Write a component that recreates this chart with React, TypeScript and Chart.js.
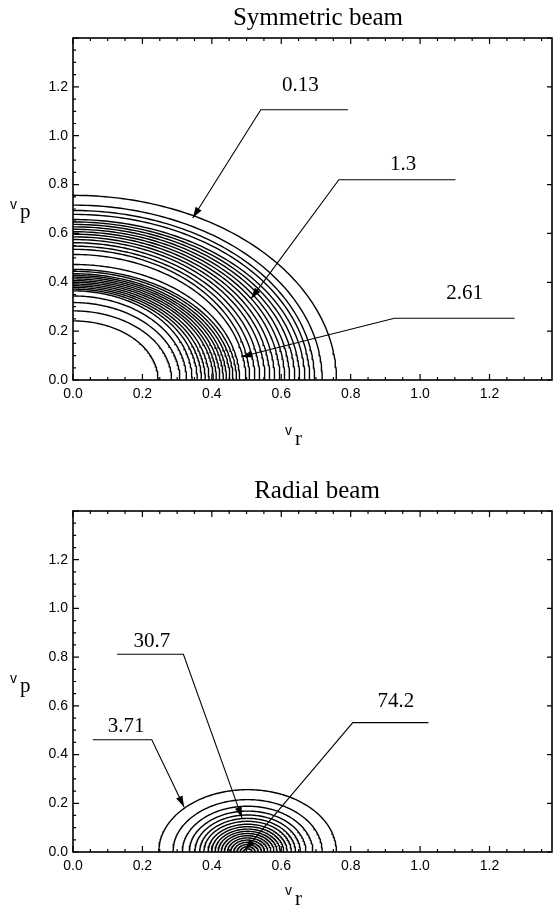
import React, { useEffect, useRef } from 'react';
import { Chart, registerables } from 'chart.js';

Chart.register(...registerables);

// ---- axes ----
const X_TICKS = [0, 0.2, 0.4, 0.6, 0.8, 1.0, 1.2];
const Y_TICKS = [0, 0.2, 0.4, 0.6, 0.8, 1.0, 1.2];
const X_MAX = 1.38;
const Y_MAX = 1.4;

// ---- Symmetric beam: contour intercepts on the v_r axis and on the v_p axis ----
const SYM_X_INTERCEPTS = [
  0.245, 0.284, 0.308, 0.327, 0.343, 0.358, 0.37, 0.381, 0.392, 0.404, 0.413, 0.423, 0.433, 0.442, 0.452, 0.461, 0.471, 0.48,
  0.498, 0.509, 0.524, 0.538, 0.553, 0.567, 0.581, 0.596, 0.61, 0.624, 0.639, 0.653, 0.668, 0.682, 0.696, 0.718, 0.759,
];
const SYM_Y_INTERCEPTS = [
  0.242, 0.283, 0.317, 0.344, 0.365, 0.372, 0.379, 0.386, 0.393, 0.4, 0.407, 0.414, 0.421, 0.428, 0.435, 0.445, 0.453, 0.473,
  0.514, 0.535, 0.548, 0.562, 0.575, 0.586, 0.597, 0.607, 0.617, 0.627, 0.637, 0.647, 0.657, 0.678, 0.694, 0.716, 0.756,
];

// ---- Radial beam: contour circles centred on the v_r axis ----
const RAD_CENTER = 0.503;
const RAD_RADII = [
  0.256, 0.215, 0.188, 0.168, 0.152, 0.138, 0.126, 0.114, 0.104, 0.094, 0.085, 0.076, 0.067, 0.058, 0.049, 0.04, 0.031, 0.022, 0.013,
];

// ---- contour-level labels (data coordinates) ----
const SYM_LABELS = ['0.13', '1.3', '2.61'];
const SYM_LABEL_AT = [[0.655, 1.184], [0.951, 0.86], [1.128, 0.33]];
const SYM_LEADER_END = [[0.792, 1.106], [1.102, 0.82], [1.272, 0.253]];
const SYM_LEADER_ELBOW = [[0.541, 1.106], [0.766, 0.82], [0.926, 0.253]];
const SYM_LEADER_TIP = [[0.345, 0.663], [0.513, 0.333], [0.485, 0.095]];

const RAD_LABELS = ['30.7', '74.2', '3.71'];
const RAD_LABEL_AT = [[0.227, 0.841], [0.93, 0.596], [0.153, 0.494]];
const RAD_LEADER_END = [[0.127, 0.812], [1.024, 0.531], [0.057, 0.461]];
const RAD_LEADER_ELBOW = [[0.318, 0.812], [0.806, 0.531], [0.227, 0.461]];
const RAD_LEADER_TIP = [[0.487, 0.14], [0.495, 0.008], [0.32, 0.185]];

function quarterArc(rx: number, ry: number) {
  const pts = [];
  const n = 90;
  for (let i = 0; i <= n; i++) {
    const t = (Math.PI / 2) * (i / n);
    pts.push({ x: rx * Math.cos(t), y: ry * Math.sin(t) });
  }
  return pts;
}

function halfArc(cx: number, r: number) {
  const pts = [];
  const n = 120;
  for (let i = 0; i <= n; i++) {
    const t = Math.PI * (i / n);
    pts.push({ x: cx + r * Math.cos(t), y: r * Math.sin(t) });
  }
  return pts;
}

const SERIF = '"Liberation Serif", "Times New Roman", serif';
const SANS = '"Liberation Sans", Arial, sans-serif';

type Decor = {
  title: string;
  titleDx: number;
  labels: string[];
  labelAt: number[][];
  leaderEnd: number[][];
  leaderElbow: number[][];
  leaderTip: number[][];
  xTitleDy: number;
  yTitleDy: number;
};

function decorPlugin(d: Decor) {
  return {
    id: 'decor',
    afterDatasetsDraw(chart: any) {
      const { ctx, chartArea: a } = chart;
      const xs = chart.scales.x;
      const ys = chart.scales.y;
      const px = (v: number) => xs.getPixelForValue(v);
      const py = (v: number) => ys.getPixelForValue(v);
      ctx.save();
      ctx.strokeStyle = '#000';
      ctx.fillStyle = '#000';

      // frame
      ctx.lineWidth = 1.6;
      ctx.strokeRect(a.left, a.top, a.right - a.left, a.bottom - a.top);

      // inward ticks
      ctx.lineWidth = 1.2;
      ctx.beginPath();
      for (let k = 0; k * 0.05 <= X_MAX + 1e-9; k++) {
        const v = k * 0.05;
        const major = k % 4 === 0;
        const L = major ? 6 : 3;
        const x = px(v);
        ctx.moveTo(x, a.bottom);
        ctx.lineTo(x, a.bottom - L);
        ctx.moveTo(x, a.top);
        ctx.lineTo(x, a.top + L);
      }
      for (let k = 0; k * 0.05 <= Y_MAX + 1e-9; k++) {
        const v = k * 0.05;
        const major = k % 4 === 0;
        const L = major ? 6 : 3;
        const y = py(v);
        ctx.moveTo(a.left, y);
        ctx.lineTo(a.left + L, y);
        if (major) {
          ctx.moveTo(a.right, y);
          ctx.lineTo(a.right - 5, y);
        }
      }
      ctx.stroke();

      // leader lines with arrows
      ctx.lineWidth = 1.1;
      for (let i = 0; i < d.labels.length; i++) {
        const e = d.leaderEnd[i];
        const m = d.leaderElbow[i];
        const t = d.leaderTip[i];
        const ex = px(e[0]), ey = py(e[1]);
        const mx = px(m[0]), my = py(m[1]);
        const tx = px(t[0]), ty = py(t[1]);
        ctx.beginPath();
        ctx.moveTo(ex, ey);
        ctx.lineTo(mx, my);
        ctx.lineTo(tx, ty);
        ctx.stroke();
        const ang = Math.atan2(ty - my, tx - mx);
        const len = 11;
        const hw = 3.5;
        ctx.beginPath();
        ctx.moveTo(tx, ty);
        ctx.lineTo(tx - len * Math.cos(ang) + hw * Math.sin(ang), ty - len * Math.sin(ang) - hw * Math.cos(ang));
        ctx.lineTo(tx - len * Math.cos(ang) - hw * Math.sin(ang), ty - len * Math.sin(ang) + hw * Math.cos(ang));
        ctx.closePath();
        ctx.fill();

        ctx.font = `21px ${SERIF}`;
        ctx.textAlign = 'center';
        ctx.textBaseline = 'alphabetic';
        ctx.fillText(d.labels[i], px(d.labelAt[i][0]), py(d.labelAt[i][1]));
      }

      // chart title
      ctx.font = `25px ${SERIF}`;
      ctx.textAlign = 'center';
      ctx.textBaseline = 'alphabetic';
      ctx.fillText(d.title, a.left + d.titleDx, a.top - 13);

      // axis titles: v_p and v_r
      ctx.textAlign = 'left';
      const midY = (a.top + a.bottom) / 2;
      ctx.font = `14px ${SANS}`;
      ctx.fillText('v', a.left - 63, midY + d.yTitleDy);
      ctx.font = `21px ${SERIF}`;
      ctx.fillText('p', a.left - 53, midY + d.yTitleDy + 9);

      ctx.font = `14px ${SANS}`;
      ctx.fillText('v', a.left + 212, a.bottom + d.xTitleDy);
      ctx.font = `21px ${SERIF}`;
      ctx.fillText('r', a.left + 222, a.bottom + d.xTitleDy + 10);

      ctx.restore();
    },
  };
}

function makeConfig(datasets: any[], padTop: number, xHeight: number, decor: Decor) {
  const tickFont = { family: SANS, size: 14 };
  return {
    type: 'scatter' as const,
    data: { datasets },
    options: {
      responsive: false,
      animation: false as const,
      devicePixelRatio: 1,
      events: [],
      layout: { padding: { top: padTop, right: 1, left: 0, bottom: 0 } },
      plugins: {
        legend: { display: false },
        title: { display: false },
        tooltip: { enabled: false },
      },
      elements: { point: { radius: 0 } },
      scales: {
        x: {
          type: 'linear' as const,
          min: 0,
          max: X_MAX,
          grid: { display: false, drawTicks: false },
          border: { display: false },
          ticks: {
            font: tickFont,
            color: '#000',
            padding: 6,
            maxRotation: 0,
            autoSkip: false,
            includeBounds: false,
            callback: (v: any) => Number(v).toFixed(1),
          },
          afterBuildTicks: (s: any) => {
            s.ticks = X_TICKS.map((v) => ({ value: v }));
          },
          afterFit: (s: any) => {
            s.height = xHeight;
          },
        },
        y: {
          type: 'linear' as const,
          min: 0,
          max: Y_MAX,
          grid: { display: false, drawTicks: false },
          border: { display: false },
          ticks: {
            font: tickFont,
            color: '#000',
            padding: 5,
            autoSkip: false,
            includeBounds: false,
            callback: (v: any) => Number(v).toFixed(1),
          },
          afterBuildTicks: (s: any) => {
            s.ticks = Y_TICKS.map((v) => ({ value: v }));
          },
          afterFit: (s: any) => {
            s.width = 73;
          },
        },
      },
    },
    plugins: [decorPlugin(decor)],
  };
}

function lineSet(points: { x: number; y: number }[]) {
  return {
    data: points,
    showLine: true,
    borderColor: '#000',
    borderWidth: 1.4,
    pointRadius: 0,
    tension: 0,
    fill: false,
  };
}

export default function App() {
  const topRef = useRef<HTMLCanvasElement>(null);
  const botRef = useRef<HTMLCanvasElement>(null);

  useEffect(() => {
    const symSets = SYM_X_INTERCEPTS.map((rx, i) => lineSet(quarterArc(rx, SYM_Y_INTERCEPTS[i])));
    const radSets = RAD_RADII.map((r) => lineSet(halfArc(RAD_CENTER, r)));

    const c1 = new Chart(
      topRef.current as HTMLCanvasElement,
      makeConfig(symSets, 38, 70, {
        title: 'Symmetric beam',
        titleDx: 245,
        labels: SYM_LABELS,
        labelAt: SYM_LABEL_AT,
        leaderEnd: SYM_LEADER_END,
        leaderElbow: SYM_LEADER_ELBOW,
        leaderTip: SYM_LEADER_TIP,
        xTitleDy: 55,
        yTitleDy: 0,
      }) as any
    );
    const c2 = new Chart(
      botRef.current as HTMLCanvasElement,
      makeConfig(radSets, 61, 63, {
        title: 'Radial beam',
        titleDx: 244,
        labels: RAD_LABELS,
        labelAt: RAD_LABEL_AT,
        leaderEnd: RAD_LEADER_END,
        leaderElbow: RAD_LEADER_ELBOW,
        leaderTip: RAD_LEADER_TIP,
        xTitleDy: 43,
        yTitleDy: 1,
      }) as any
    );
    return () => {
      c1.destroy();
      c2.destroy();
    };
  }, []);

  return (
    <div style={{ position: 'absolute', left: 0, top: 0, width: 553, height: 915, background: '#fff' }}>
      <canvas ref={topRef} width={553} height={450} style={{ display: 'block' }} />
      <canvas ref={botRef} width={553} height={465} style={{ display: 'block' }} />
    </div>
  );
}
